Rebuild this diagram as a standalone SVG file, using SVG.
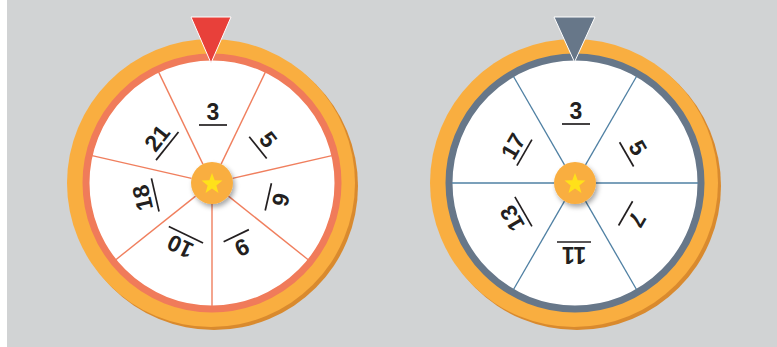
<svg xmlns="http://www.w3.org/2000/svg" width="777" height="347" viewBox="0 0 777 347">
<style>
.lbl{font-family:"Liberation Sans",Arial,sans-serif;font-weight:bold;font-size:23px;fill:#231f20;text-anchor:middle}
.bar{stroke:#231f20;stroke-width:1.7}
.divL{stroke:#f07f5e;stroke-width:1.4}
.divR{stroke:#4f80a3;stroke-width:1.3}
.orange{fill:#f9ae40}
.orangeDark{fill:#d98a2e}
.hub{fill:#f9ae40}
.star{fill:#ffe11a}
</style>
<defs>
<filter id="sh" x="-50%" y="-50%" width="200%" height="200%">
<feDropShadow dx="2" dy="3" stdDeviation="2.5" flood-color="#000" flood-opacity="0.35"/>
</filter>
<polygon id="starShape" points="0,-11 2.7,-3.72 10.46,-3.4 4.37,1.42 6.47,8.9 0,4.6 -6.47,8.9 -4.37,1.42 -10.46,-3.4 -2.7,-3.72"/>
</defs>
<rect x="0" y="0" width="777" height="347" fill="#ffffff"/>
<rect x="7" y="0" width="770" height="347" fill="#d1d3d4"/>

<g id="wheel-left">
<circle class="orangeDark" cx="214" cy="186" r="144"/>
<circle class="orange" cx="211" cy="183" r="144"/>
<circle cx="212" cy="183" r="126" fill="#ffffff" stroke="#f07b5a" stroke-width="7"/>
<g id="dividers-left">
<line class="divL" x1="212" y1="162" x2="212" y2="60" transform="rotate(25.71 212 183)"/>
<line class="divL" x1="212" y1="162" x2="212" y2="60" transform="rotate(77.14 212 183)"/>
<line class="divL" x1="212" y1="162" x2="212" y2="60" transform="rotate(128.57 212 183)"/>
<line class="divL" x1="212" y1="162" x2="212" y2="60" transform="rotate(180 212 183)"/>
<line class="divL" x1="212" y1="162" x2="212" y2="60" transform="rotate(231.43 212 183)"/>
<line class="divL" x1="212" y1="162" x2="212" y2="60" transform="rotate(282.86 212 183)"/>
<line class="divL" x1="212" y1="162" x2="212" y2="60" transform="rotate(334.29 212 183)"/>
</g>
<g id="label-left-3" transform="rotate(0 212 183)"><text class="lbl" x="213" y="120">3</text><line class="bar" x1="199" y1="125" x2="227" y2="125"/></g>
<g id="label-left-5" transform="rotate(51.43 212 183)"><text class="lbl" x="213" y="120">5</text><line class="bar" x1="199" y1="125" x2="227" y2="125"/></g>
<g id="label-left-6" transform="rotate(102.86 212 183)"><text class="lbl" x="213" y="120">6</text><line class="bar" x1="199" y1="125" x2="227" y2="125"/></g>
<g id="label-left-9" transform="rotate(154.29 212 183)"><text class="lbl" x="213" y="120">9</text><line class="bar" x1="199" y1="125" x2="227" y2="125"/></g>
<g id="label-left-10" transform="rotate(205.71 212 183)"><text class="lbl" x="213" y="120">10</text><line class="bar" x1="194" y1="125" x2="232" y2="125"/></g>
<g id="label-left-18" transform="rotate(257.14 212 183)"><text class="lbl" x="213" y="120">18</text><line class="bar" x1="196" y1="125" x2="230" y2="125"/></g>
<g id="label-left-21" transform="rotate(308.57 212 183)"><text class="lbl" x="213" y="120">21</text><line class="bar" x1="195" y1="125" x2="231" y2="125"/></g>
<g id="hub-left">
<circle class="hub" cx="212" cy="183" r="21" filter="url(#sh)"/>
<use href="#starShape" class="star" transform="translate(212 184)"/>
</g>
<polygon id="pointer-left" points="191,17 231,17 211,63" fill="#e8403a" stroke="#ffffff" stroke-width="1"/>
</g>

<g id="wheel-right">
<circle class="orangeDark" cx="577" cy="186" r="144"/>
<circle class="orange" cx="574" cy="183" r="144"/>
<circle cx="575" cy="183" r="126" fill="#ffffff" stroke="#677789" stroke-width="7"/>
<g id="dividers-right">
<line class="divR" x1="575" y1="162" x2="575" y2="60" transform="rotate(30 575 183)"/>
<line class="divR" x1="575" y1="162" x2="575" y2="60" transform="rotate(90 575 183)"/>
<line class="divR" x1="575" y1="162" x2="575" y2="60" transform="rotate(150 575 183)"/>
<line class="divR" x1="575" y1="162" x2="575" y2="60" transform="rotate(210 575 183)"/>
<line class="divR" x1="575" y1="162" x2="575" y2="60" transform="rotate(270 575 183)"/>
<line class="divR" x1="575" y1="162" x2="575" y2="60" transform="rotate(330 575 183)"/>
</g>
<g id="label-right-3" transform="rotate(0 575 183)"><text class="lbl" x="576" y="119">3</text><line class="bar" x1="562" y1="124" x2="590" y2="124"/></g>
<g id="label-right-5" transform="rotate(60 575 183)"><text class="lbl" x="576" y="119">5</text><line class="bar" x1="562" y1="124" x2="590" y2="124"/></g>
<g id="label-right-7" transform="rotate(120 575 183)"><text class="lbl" x="576" y="119">7</text><line class="bar" x1="562" y1="124" x2="590" y2="124"/></g>
<g id="label-right-11" transform="rotate(180 575 183)"><text class="lbl" x="576" y="119">11</text><line class="bar" x1="559" y1="124" x2="593" y2="124"/></g>
<g id="label-right-13" transform="rotate(240 575 183)"><text class="lbl" x="576" y="119">13</text><line class="bar" x1="559" y1="124" x2="593" y2="124"/></g>
<g id="label-right-17" transform="rotate(300 575 183)"><text class="lbl" x="576" y="119">17</text><line class="bar" x1="561" y1="124" x2="591" y2="124"/></g>
<g id="hub-right">
<circle class="hub" cx="575" cy="183" r="21" filter="url(#sh)"/>
<use href="#starShape" class="star" transform="translate(575 184)"/>
</g>
<polygon id="pointer-right" points="554,17 595,17 574.5,62" fill="#677789" stroke="#ffffff" stroke-width="1"/>
</g>
</svg>
